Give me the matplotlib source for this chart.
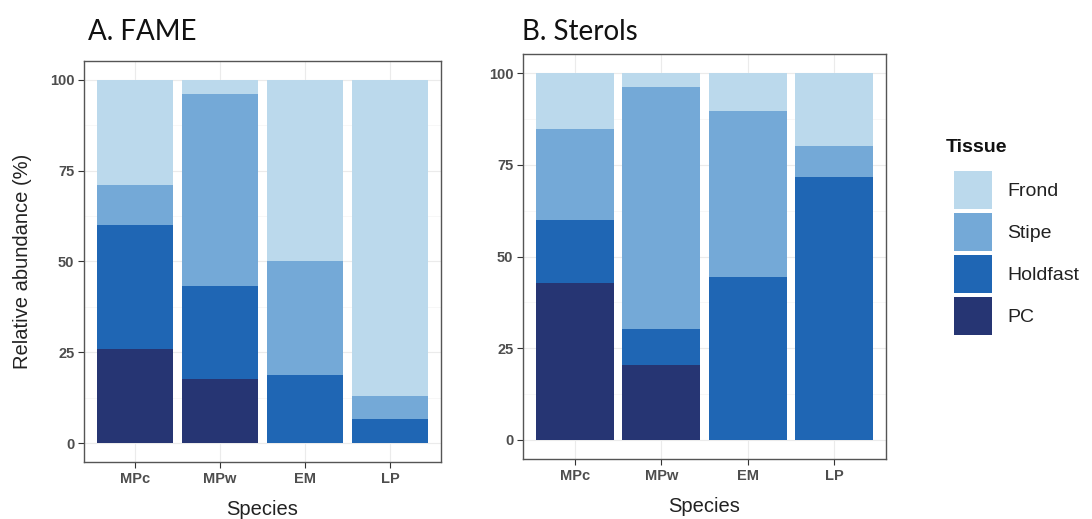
import matplotlib
matplotlib.use("Agg")
import matplotlib.pyplot as plt
from matplotlib.patches import Patch
import numpy as np

species = ["MPc", "MPw", "EM", "LP"]
tissues = ["PC", "Holdfast", "Stipe", "Frond"]  # bottom to top
colors = {"Frond": "#bbd9ec", "Stipe": "#74a9d7", "Holdfast": "#1f66b4", "PC": "#263573"}

fame_pc = [26.0, 17.6, 0.0, 0.0]
fame_holdfast = [34.0, 25.7, 18.7, 6.6]
fame_stipe = [11.0, 52.8, 31.3, 6.3]
fame_frond = [29.0, 3.9, 50.0, 87.1]

sterol_pc = [42.9, 20.4, 0.0, 0.0]
sterol_holdfast = [17.0, 9.8, 44.4, 71.6]
sterol_stipe = [25.0, 66.0, 45.2, 8.6]
sterol_frond = [15.1, 3.8, 10.4, 19.8]

yticks = [0, 25, 50, 75, 100]

plt.rcParams['font.family'] = ['Liberation Sans', 'DejaVu Sans']

fig = plt.figure(figsize=(10.92, 5.19), dpi=100)
ax1 = fig.add_axes([0.0769, 0.1098, 0.327, 0.7727])
ax2 = fig.add_axes([0.479, 0.1156, 0.3324, 0.780])

tick_col = "#4d4d4d"


def draw(ax, data):
    x = np.arange(len(species))
    bottom = np.zeros(len(species))
    for t in tissues:
        vals = np.array(data[t])
        ax.bar(x, vals, bottom=bottom, width=0.9, color=colors[t], zorder=2, linewidth=0)
        bottom += vals
    ax.set_xlim(-0.6, 3.6)
    ax.set_ylim(-5.2, 105.2)
    ax.set_xticks(x)
    ax.set_xticklabels(species)
    ax.set_yticks(yticks)
    ax.set_yticks([12.5, 37.5, 62.5, 87.5], minor=True)
    ax.grid(True, which="major", color="#ebebeb", linewidth=0.8, zorder=0)
    ax.grid(True, which="minor", axis="y", color="#f4f4f4", linewidth=0.5, zorder=0)
    ax.tick_params(axis="both", which="major", length=4, width=0.8, color="#333333",
                   labelsize=10.5, labelcolor=tick_col, pad=3)
    ax.tick_params(axis="both", which="minor", length=0)
    for lab in ax.get_xticklabels() + ax.get_yticklabels():
        lab.set_fontweight("bold")
    for s in ax.spines.values():
        s.set_color("#555555")
        s.set_linewidth(1.0)
    ax.set_xlabel("Species", fontsize=14.5, color="#222222", labelpad=10)
    ax.set_axisbelow(True)


draw(ax1, {"PC": fame_pc, "Holdfast": fame_holdfast, "Stipe": fame_stipe, "Frond": fame_frond})
draw(ax2, {"PC": sterol_pc, "Holdfast": sterol_holdfast, "Stipe": sterol_stipe, "Frond": sterol_frond})

ax1.set_ylabel("Relative abundance (%)", fontsize=14.5, color="#222222", labelpad=13)

title_font = ['Lato', 'DejaVu Sans']
fig.text(88 / 1092, 1 - 32 / 519, "A. FAME", fontsize=20, color="#111111",
         va="center", ha="left", family=title_font)
fig.text(522 / 1092, 1 - 32 / 519, "B. Sterols", fontsize=20, color="#111111",
         va="center", ha="left", family=title_font)

fig.text(946 / 1092, 1 - 147 / 519, "Tissue", fontsize=14, fontweight="bold",
         color="#111111", va="center", ha="left")

handles = [Patch(facecolor=colors[t], edgecolor="none") for t in ["Frond", "Stipe", "Holdfast", "PC"]]
leg = fig.legend(handles, ["Frond", "Stipe", "Holdfast", "PC"],
                 loc="upper left", bbox_to_anchor=(946 / 1092, 1 - 163 / 519),
                 frameon=False, fontsize=14,
                 handlelength=1.95, handleheight=2.65, handletextpad=0.8,
                 labelspacing=0.2, borderaxespad=0)
for txt in leg.get_texts():
    txt.set_color("#222222")

fig.savefig("out.png", dpi=100)
